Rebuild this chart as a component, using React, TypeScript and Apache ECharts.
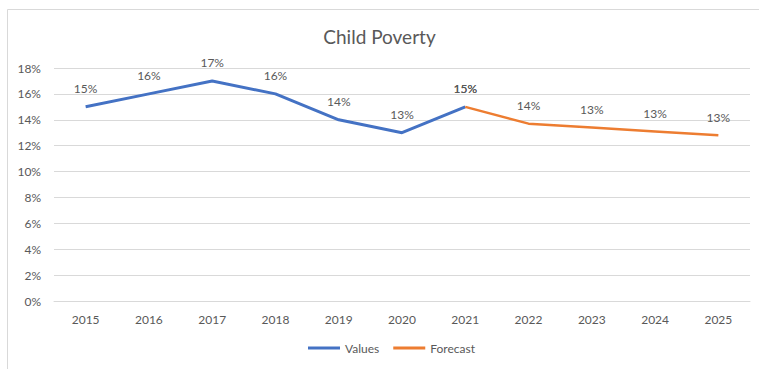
import React, { useEffect, useRef } from "react";
import * as echarts from "echarts";

const years = ["2015", "2016", "2017", "2018", "2019", "2020", "2021", "2022", "2023", "2024", "2025"];
const valuesSeries: (number | null)[] = [15, 16, 17, 16, 14, 13, 15, null, null, null, null];
const forecastSeries: (number | null)[] = [null, null, null, null, null, null, 15, 13.7, 13.4, 13.1, 12.8];
const titleText = "Child Poverty";
const FONT = "Lato, 'Open Sans', sans-serif";

export default function App() {
  const ref = useRef<HTMLDivElement>(null);
  useEffect(() => {
    if (!ref.current) return;
    const chart = echarts.init(ref.current, undefined, { renderer: "svg" });
    const label = {
      show: true,
      position: "top" as const,
      distance: 12,
      color: "#595959",
      fontSize: 12,
      fontFamily: FONT,
      formatter: (p: any) => Math.round(p.value) + "%",
    };
    chart.setOption({
      animation: false,
      backgroundColor: "#ffffff",
      title: {
        text: titleText,
        left: "center",
        top: 22,
        textStyle: { color: "#595959", fontSize: 19, fontWeight: "normal", fontFamily: FONT },
      },
      grid: { left: 54, right: 9, top: 68, bottom: 68, containLabel: false },
      legend: {
        bottom: 10,
        left: 303,
        icon: "rect",
        itemWidth: 32,
        itemHeight: 3,
        itemGap: 14,
        textStyle: { color: "#595959", fontSize: 12, fontFamily: FONT },
        data: ["Values", "Forecast"],
      },
      xAxis: {
        type: "category",
        data: years,
        boundaryGap: true,
        axisLine: { show: true, lineStyle: { color: "#d9d9d9" } },
        axisTick: { show: false },
        axisLabel: { color: "#595959", fontSize: 12, fontFamily: FONT, margin: 12 },
      },
      yAxis: {
        type: "value",
        min: 0,
        max: 18,
        interval: 2,
        axisLine: { show: false },
        axisTick: { show: false },
        splitLine: { lineStyle: { color: "#d9d9d9", width: 1 } },
        axisLabel: { color: "#595959", fontSize: 12, fontFamily: FONT, formatter: "{value}%", margin: 13 },
      },
      series: [
        {
          name: "Values",
          type: "line",
          data: valuesSeries,
          symbol: "circle",
          symbolSize: 0,
          showSymbol: true,
          color: "#4472C4",
          lineStyle: { color: "#4472C4", width: 3 },
          label,
        },
        {
          name: "Forecast",
          type: "line",
          data: forecastSeries,
          symbol: "circle",
          symbolSize: 0,
          showSymbol: true,
          color: "#ED7D31",
          lineStyle: { color: "#ED7D31", width: 2.5 },
          label,
        },
      ],
      graphic: [
        {
          type: "rect",
          shape: { x: 7.5, y: 9.5, width: 800, height: 400 },
          style: { fill: "none", stroke: "#d9d9d9", lineWidth: 1 },
          silent: true,
        },
      ],
    });
    return () => chart.dispose();
  }, []);
  return <div ref={ref} style={{ position: "fixed", left: 0, top: 0, width: 759, height: 369 }} />;
}
